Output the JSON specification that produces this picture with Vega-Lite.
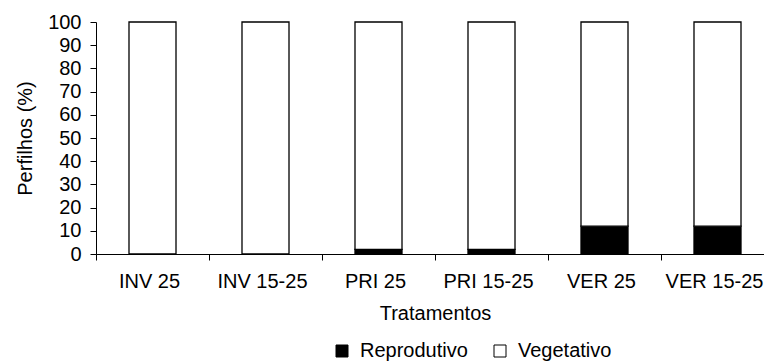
{
  "$schema": "https://vega.github.io/schema/vega-lite/v6.json",
  "autosize": "none",
  "width": 678,
  "height": 232,
  "padding": {"left": 96, "top": 22, "right": 0, "bottom": 109},
  "background": "white",
  "config": {
    "font": "Liberation Sans",
    "view": {"stroke": null},
    "axis": {
      "domainColor": "black",
      "tickColor": "black",
      "labelColor": "black",
      "titleColor": "black",
      "labelFont": "Liberation Sans",
      "titleFont": "Liberation Sans",
      "titleFontWeight": "normal",
      "labelFontSize": 20,
      "titleFontSize": 20,
      "grid": false,
      "tickSize": 6,
      "domainWidth": 1,
      "tickWidth": 1
    },
    "legend": {"labelFont": "Liberation Sans", "labelFontSize": 20, "labelColor": "black"}
  },
  "data": {
    "values": [
      {"tratamento": "INV 25", "tipo": "Reprodutivo", "valor": 0},
      {"tratamento": "INV 25", "tipo": "Vegetativo", "valor": 100},
      {"tratamento": "INV 15-25", "tipo": "Reprodutivo", "valor": 0},
      {"tratamento": "INV 15-25", "tipo": "Vegetativo", "valor": 100},
      {"tratamento": "PRI 25", "tipo": "Reprodutivo", "valor": 2},
      {"tratamento": "PRI 25", "tipo": "Vegetativo", "valor": 98},
      {"tratamento": "PRI 15-25", "tipo": "Reprodutivo", "valor": 2},
      {"tratamento": "PRI 15-25", "tipo": "Vegetativo", "valor": 98},
      {"tratamento": "VER 25", "tipo": "Reprodutivo", "valor": 12},
      {"tratamento": "VER 25", "tipo": "Vegetativo", "valor": 88},
      {"tratamento": "VER 15-25", "tipo": "Reprodutivo", "valor": 12},
      {"tratamento": "VER 15-25", "tipo": "Vegetativo", "valor": 88}
    ]
  },
  "mark": {"type": "bar", "stroke": "black", "strokeWidth": 1.3},
  "encoding": {
    "x": {
      "field": "tratamento",
      "type": "nominal",
      "sort": ["INV 25", "INV 15-25", "PRI 25", "PRI 15-25", "VER 25", "VER 15-25"],
      "scale": {"paddingInner": 0.584, "paddingOuter": 0.292},
      "axis": {
        "title": "Tratamentos",
        "labelAngle": 0,
        "tickOffset": -56.5,
        "labelOffset": 53,
        "labelPadding": 11,
        "titlePadding": 12
      }
    },
    "y": {
      "field": "valor",
      "type": "quantitative",
      "stack": "zero",
      "scale": {"domain": [0, 100], "nice": false},
      "axis": {
        "values": [0, 10, 20, 30, 40, 50, 60, 70, 80, 90, 100],
        "title": "Perfilhos (%)",
        "labelPadding": 9,
        "titleBaseline": "alphabetic",
        "titleX": -65,
        "titleY": 116
      }
    },
    "fill": {
      "field": "tipo",
      "type": "nominal",
      "scale": {"domain": ["Reprodutivo", "Vegetativo"], "range": ["black", "white"]},
      "legend": {
        "title": null,
        "orient": "none",
        "direction": "horizontal",
        "legendX": 236,
        "legendY": 319,
        "symbolType": "square",
        "symbolSize": 144,
        "symbolStrokeColor": "black",
        "symbolStrokeWidth": 1,
        "symbolOpacity": 1,
        "columnPadding": 22,
        "labelOffset": 8
      }
    },
    "order": {"field": "tipo", "sort": "ascending"}
  }
}
